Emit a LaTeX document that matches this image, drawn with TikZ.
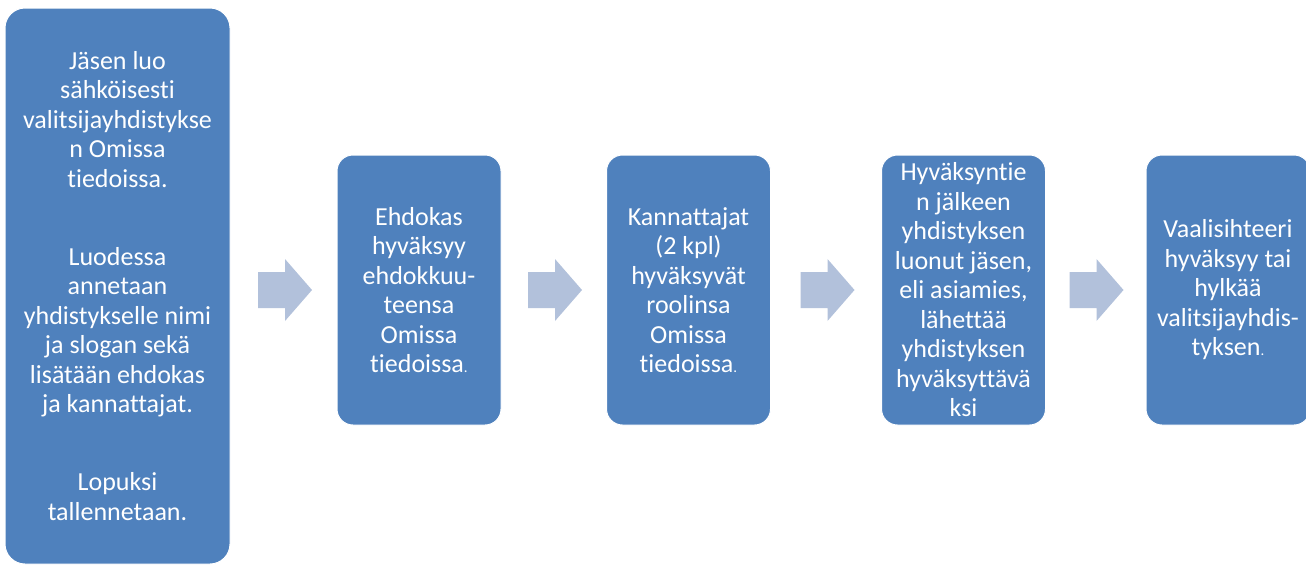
\documentclass[tikz,border=0pt]{standalone}
\usepackage{fontspec}
\setmainfont{Carlito}[RawFeature={-liga;-clig;-calt;-dlig}]
\definecolor{boxblue}{HTML}{4F81BD}
\definecolor{arrowblue}{HTML}{B2C1DB}
\newcommand{\smdot}{{\fontsize{15}{15}\selectfont.}}
\begin{document}
\begin{tikzpicture}[x=1pt,y=-1pt,
  stepbox/.style={fill=boxblue, draw=white, line width=1pt, rounded corners=16pt,
    text=white, align=center, font=\fontsize{26}{29.5}\selectfont,
    inner sep=0pt, minimum width=164pt, minimum height=270pt},
  blockarrow/.pic={\fill[arrowblue] (-27,-18) -- (0,-18) -- (0,-31) -- (27,0) -- (0,31) -- (0,18) -- (-27,18) -- cycle;}]
\useasboundingbox (0,0) rectangle (1306,565);
\begin{scope}
\clip (0,0) rectangle (1306,565);
\node[stepbox, rounded corners=20pt, minimum width=225pt, minimum height=556pt] (s1) at (117.5,286)
  {Jäsen luo\\ sähköisesti\\ valitsijayhdistykse\\ n Omissa\\ tiedoissa.\\[48.5pt]
   Luodessa\\ annetaan\\ yhdistykselle nimi\\ ja slogan sekä\\ lisätään ehdokas\\ ja kannattajat.\\[48.5pt]
   Lopuksi\\ tallennetaan.};
\node[stepbox] (s2) at (419,290)
  {Ehdokas\\ hyväksyy\\ ehdokkuu-\\ teensa\\ Omissa\\ tiedoissa\smdot};
\node[stepbox] (s3) at (688.5,290)
  {Kannattajat\\ (2 kpl)\\ hyväksyvät\\ roolinsa\\ Omissa\\ tiedoissa\smdot};
\node[stepbox] (s4) at (963.5,290)
  {Hyväksyntie\\ n jälkeen\\ yhdistyksen\\ luonut jäsen,\\ eli asiamies,\\ lähettää\\ yhdistyksen\\ hyväksyttävä\\ ksi};
\node[stepbox] (s5) at (1228,290)
  {Vaalisihteeri\\ hyväksyy tai\\ hylkää\\ valitsijayhdis-\\ tyksen\smdot};
\end{scope}
\pic at (285,290) {blockarrow};
\pic at (555,290) {blockarrow};
\pic at (827.5,290) {blockarrow};
\pic at (1096.5,290) {blockarrow};
\end{tikzpicture}
\end{document}
